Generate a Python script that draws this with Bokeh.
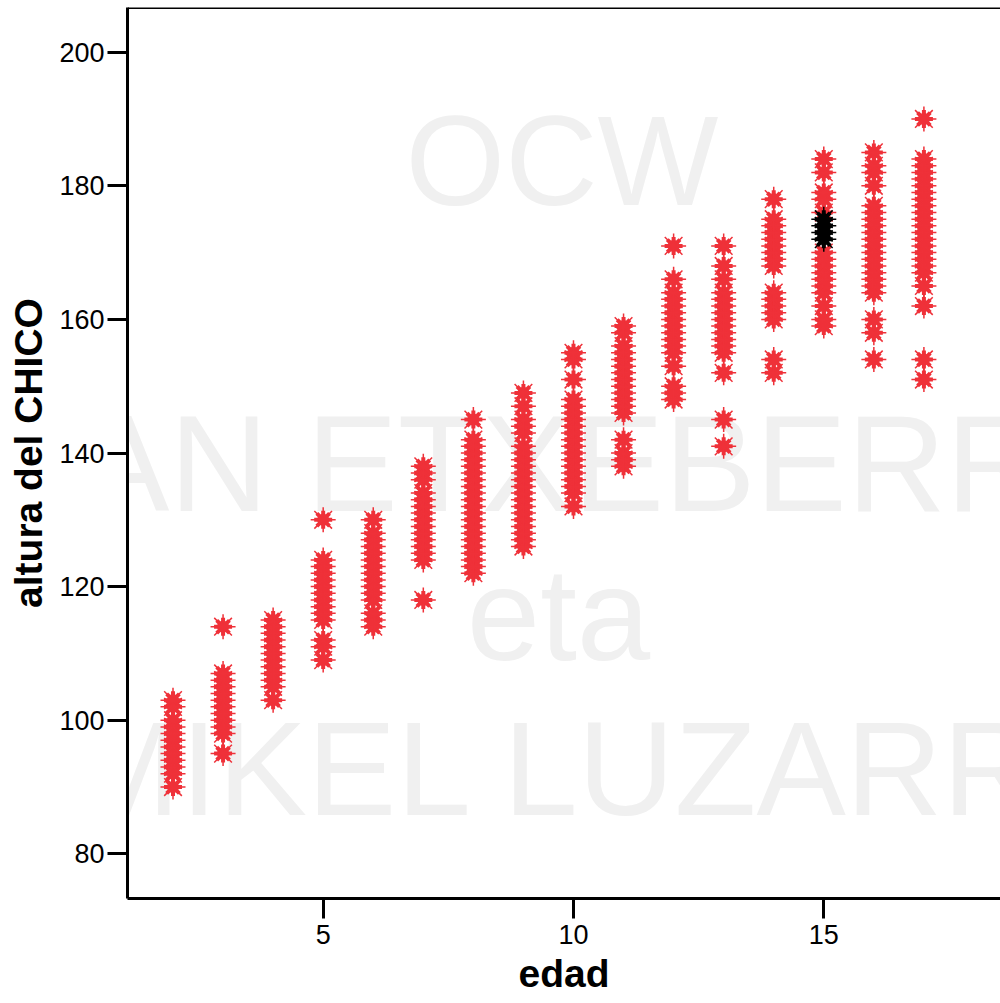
from bokeh.plotting import figure
from bokeh.models import Range1d, FixedTicker, Span, Label
from bokeh.embed import file_html
from bokeh.resources import INLINE

# ---- data ----
ages = [2, 3, 4, 5, 6, 7, 8, 9, 10, 11, 12, 13, 14, 15, 16, 17]
h_age2 = [90, 92, 93, 94, 95, 96, 97, 98, 99, 100, 102, 103]
h_age3 = [95, 98, 99, 100, 101, 102, 103, 104, 105, 106, 107, 114]
h_age4 = [103, 105, 106, 107, 108, 109, 110, 111, 112, 113, 114, 115]
h_age5 = [109, 111, 112, 115, 116, 117, 118, 119, 120, 121, 122, 123, 124, 130]
h_age6 = [114, 115, 116, 118, 119, 120, 121, 122, 123, 124, 125, 126, 127, 128, 130]
h_age7 = [118, 124, 125, 126, 127, 128, 129, 130, 131, 132, 133, 134, 136, 137, 138]
h_age8 = [122, 123, 124, 125, 126, 127, 128, 129, 130, 131, 132, 133, 134, 135, 136,
          137, 138, 139, 140, 141, 142, 145]
h_age9 = [126, 127, 128, 129, 130, 131, 132, 133, 134, 135, 136, 137, 138, 139, 140,
          141, 143, 144, 145, 147, 149]
h_age10 = [132, 134, 135, 136, 137, 138, 139, 140, 141, 142, 143, 144, 145, 146, 147,
           148, 151, 154, 155]
h_age11 = [138, 139, 140, 142, 146, 147, 148, 149, 150, 151, 152, 153, 154, 155, 156,
           158, 159]
h_age12 = [148, 149, 150, 153, 155, 156, 157, 158, 159, 160, 161, 162, 163, 164, 166, 171]
h_age13 = [141, 145, 152, 155, 156, 157, 158, 159, 160, 161, 162, 163, 164, 166, 168, 171]
h_age14 = [152, 154, 160, 161, 162, 163, 164, 168, 169, 170, 171, 172, 173, 174, 175, 178]
h_age15 = [159, 160, 162, 164, 165, 166, 167, 168, 169, 170, 176, 178, 179, 182, 184]
h_age16 = [154, 158, 160, 164, 165, 166, 167, 168, 169, 170, 171, 172, 173, 174, 175,
           176, 177, 180, 182, 183, 185]
h_age17 = [151, 154, 162, 165, 167, 168, 169, 170, 171, 172, 173, 174, 175, 176, 177,
           178, 179, 180, 181, 182, 183, 184, 190]
highlight_age = [15, 15, 15, 15]
highlight_h = [172, 173, 174, 175]

x_ticks = [5, 10, 15]
y_ticks = [80, 100, 120, 140, 160, 180, 200]
x_title = "edad"
y_title = "altura del CHICO"
watermark = ["OCW", "JUAN ETXEBERRIA", "eta", "JON MIKEL LUZARRAGA"]

heights = [h_age2, h_age3, h_age4, h_age5, h_age6, h_age7, h_age8, h_age9, h_age10,
           h_age11, h_age12, h_age13, h_age14, h_age15, h_age16, h_age17]
xs, ys = [], []
for a, hs in zip(ages, heights):
    xs += [a] * len(hs)
    ys += hs

RED = "#ef3139"
BLACK = "#000000"
FONT = "Liberation Sans"

p = figure(width=1000, height=1003, output_backend="svg", toolbar_location=None,
           x_range=Range1d(1.091, 18.53), y_range=Range1d(73.31, 206.69),
           min_border_left=127, min_border_right=0, min_border_top=7,
           min_border_bottom=105)
p.background_fill_color = "white"
p.border_fill_color = "white"
p.outline_line_color = None
p.xgrid.visible = False
p.ygrid.visible = False

# watermark (drawn behind the marks and axes)
wm_pos = [(9.77, 183.8, 128), (9.38, 138.4, 137), (9.70, 115.8, 132), (9.44, 92.7, 134)]
for txt, (wx, wy, fs) in zip(watermark, wm_pos):
    p.add_layout(Label(x=wx, y=wy, text=txt, text_align="center",
                       text_baseline="alphabetic", text_color="#f0f0f0",
                       text_font=FONT, text_font_size=f"{fs}px", level="annotation"))

def stars(x, y, color):
    p.scatter(x, y, marker="circle", size=11, fill_color=color, line_color=color,
              level="overlay")
    p.scatter(x, y, marker="asterisk", size=18, line_width=4, line_color=color,
              level="overlay")
    p.scatter(x, y, marker="asterisk", size=25, line_width=1.5, line_color=color,
              level="overlay")

stars(xs, ys, RED)
stars(highlight_age, highlight_h, BLACK)

# top border
p.add_layout(Span(location=206.69, dimension="width", line_color="black", line_width=3,
                  level="overlay"))

for ax in (p.xaxis[0], p.yaxis[0]):
    ax.level = "overlay"
    ax.axis_line_width = 3
    ax.axis_line_color = "black"
    ax.major_tick_line_width = 3
    ax.major_tick_line_color = "black"
    ax.major_tick_out = 20
    ax.major_tick_in = 0
    ax.minor_tick_line_color = None
    ax.major_label_text_font = FONT
    ax.major_label_text_font_size = "27px"
    ax.major_label_text_color = "black"
    ax.axis_label_text_font = FONT
    ax.axis_label_text_font_size = "39px"
    ax.axis_label_text_font_style = "bold"
    ax.axis_label_text_color = "black"

p.xaxis.ticker = FixedTicker(ticks=x_ticks)
p.yaxis.ticker = FixedTicker(ticks=y_ticks)
p.xaxis.axis_label = x_title
p.yaxis.axis_label = y_title
p.xaxis.major_label_standoff = 6
p.xaxis.axis_label_standoff = 5
p.xaxis.axis_label_text_baseline = "middle"
p.yaxis.major_label_standoff = 3
p.yaxis.axis_label_standoff = 6

open("out.html", "w").write(file_html(p, INLINE))
